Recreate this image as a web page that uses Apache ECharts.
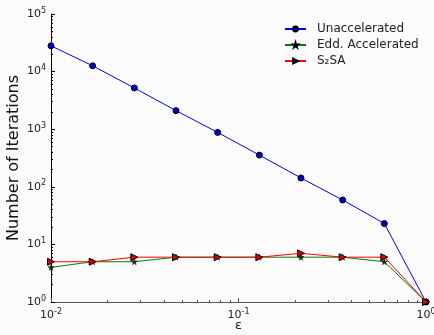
<!DOCTYPE html>
<html>
<head>
<meta charset="utf-8">
<script src="https://cdn.jsdelivr.net/npm/echarts@6/dist/echarts.min.js"></script>
<style>
  html, body { margin: 0; padding: 0; background: #fbfbfb; }
  #main { width: 434px; height: 335px; }
</style>
</head>
<body>
<div id="main"></div>
<script>
  // epsilon values (log spaced 1e-2 .. 1e0)
  var epsValues = [0.01, 0.01668, 0.02783, 0.04642, 0.07743, 0.1292, 0.2154, 0.3594, 0.5995, 1.0]
  var unaccelerated = [28000, 12600, 5200, 2100, 880, 355, 142, 59, 23, 1]
  var eddAccelerated = [4, 5, 5, 6, 6, 6, 6, 6, 5, 1]
  var s2sa = [5, 5, 6, 6, 6, 6, 7, 6, 6, 1]
  var seriesNames = ['Unaccelerated', 'Edd. Accelerated', 'S₂SA']

  function pairs(ys) {
    return ys.map(function (y, i) { return [epsValues[i], y] })
  }

  var starPath = 'path://M50,0 L61,35 L98,35 L68,57 L79,91 L50,70 L21,91 L32,57 L2,35 L39,35 Z'

  function powLabel(v) {
    var e = Math.round(Math.log10(v))
    return '{b|10}{s|' + e + '}'
  }
  var labelRich = {
    b: { fontSize: 11, color: '#222', fontFamily: 'DejaVu Sans' },
    s: { fontSize: 8, color: '#222', fontFamily: 'DejaVu Sans', padding: [0, 0, 7, 0] },
  }

  var myChart = echarts.init(document.getElementById('main'))

  var option = {
    backgroundColor: '#fbfbfb',
    animation: false,
    grid: { left: 51, right: 8, top: 14, bottom: 33, containLabel: false, outerBoundsMode: 'none' },
    legend: {
      left: 279,
      top: 18,
      orient: 'vertical',
      itemGap: 4,
      itemWidth: 21,
      itemHeight: 6,
      textStyle: { fontSize: 12, color: '#222', fontFamily: 'DejaVu Sans', padding: [0, 0, 0, 6] },
      data: seriesNames,
    },
    xAxis: {
      type: 'log',
      logBase: 10,
      min: 0.01,
      max: 1,
      name: 'ε',
      nameLocation: 'middle',
      nameGap: 17,
      nameMoveOverlap: false,
      nameTextStyle: { fontSize: 13, color: '#222', fontFamily: 'DejaVu Sans' },
      axisLine: { lineStyle: { color: '#555', width: 1 } },
      axisTick: { inside: true, length: 4, lineStyle: { color: '#555' } },
      minorTick: { show: true, splitNumber: 9, length: 2, lineStyle: { color: '#555' } },
      splitLine: { show: false },
      axisLabel: { formatter: powLabel, rich: labelRich, margin: 6 },
    },
    yAxis: {
      type: 'log',
      logBase: 10,
      min: 1,
      max: 100000,
      name: 'Number of Iterations',
      nameLocation: 'middle',
      nameGap: 29,
      nameMoveOverlap: false,
      nameTextStyle: { fontSize: 16, color: '#111', fontFamily: 'DejaVu Sans' },
      axisLine: { lineStyle: { color: '#000', width: 1 } },
      axisTick: { inside: true, length: 4, lineStyle: { color: '#000' } },
      minorTick: { show: true, splitNumber: 9, length: 2, lineStyle: { color: '#000' } },
      splitLine: { show: false },
      axisLabel: { formatter: powLabel, rich: labelRich, margin: 5 },
    },
    series: [
      {
        name: seriesNames[0],
        type: 'line',
        data: pairs(unaccelerated),
        symbol: 'circle',
        symbolSize: 6,
        lineStyle: { color: '#0000ff', width: 1 },
        itemStyle: { color: '#0000cc', borderColor: '#000', borderWidth: 1 },
        z: 3,
      },
      {
        name: seriesNames[1],
        type: 'line',
        data: pairs(eddAccelerated),
        symbol: starPath,
        symbolSize: 6,
        lineStyle: { color: '#008000', width: 1 },
        itemStyle: { color: '#0a3a0a', borderColor: '#000', borderWidth: 0.5 },
        z: 4,
      },
      {
        name: seriesNames[2],
        type: 'line',
        data: pairs(s2sa),
        symbol: 'triangle',
        symbolRotate: -90,
        symbolSize: 7,
        lineStyle: { color: '#ff0000', width: 1 },
        itemStyle: { color: '#dd0000', borderColor: '#000', borderWidth: 1 },
        z: 5,
      },
    ],
  }

  myChart.setOption(option)
</script>
</body>
</html>
